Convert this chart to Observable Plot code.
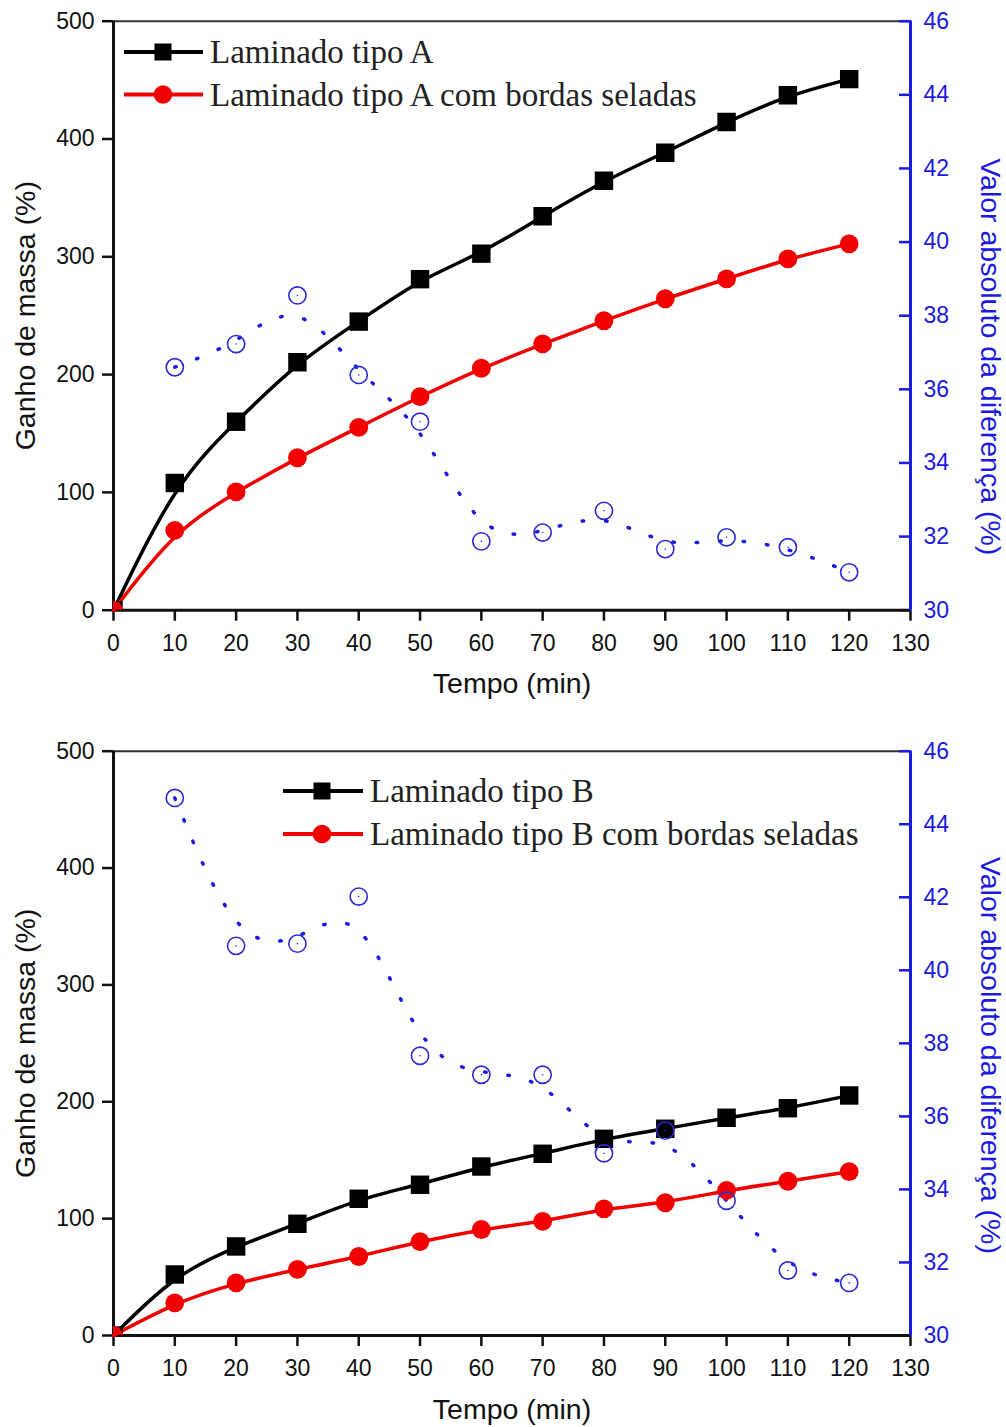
<!DOCTYPE html>
<html>
<head>
<meta charset="utf-8">
<script src="https://cdn.jsdelivr.net/npm/d3@7"></script>
<script src="https://cdn.jsdelivr.net/npm/@observablehq/plot@0.6"></script>
<style>
  html, body { margin: 0; padding: 0; background: #fff; }
  #page { position: relative; width: 1006px; height: 1427px; overflow: hidden; }
  #page svg { display: block; }
  .legend { position: absolute; left: 0; top: 0; pointer-events: none; }
</style>
</head>
<body>
<div id="page"></div>
<script>
// ---------- data ----------
const tempo = [0, 10, 20, 30, 40, 50, 60, 70, 80, 90, 100, 110, 120];
const tempoDif = [10, 20, 30, 40, 50, 60, 70, 80, 90, 100, 110, 120];

const massaA       = [0, 108, 160, 210.5, 245, 281, 302.7, 334.5, 364.6, 388.4, 414.5, 437.2, 450.8];
const massaASelada = [0, 67.8, 100.4, 129.4, 155.2, 181.3, 205.4, 226, 245.7, 264.4, 281.2, 298.2, 311];
const difA         = [36.6, 37.23, 38.55, 36.39, 35.12, 31.87, 32.11, 32.7, 31.66, 31.98, 31.71, 31.03];

const massaB       = [0, 52.2, 76.2, 95.6, 117, 129, 144.6, 155.5, 168.3, 176.9, 186.3, 194.5, 205.4];
const massaBSelada = [0, 28, 45.1, 56.5, 67.6, 80.4, 90.7, 97.6, 108.4, 113.6, 124.1, 132, 140.3];
const difB         = [44.72, 40.67, 40.73, 42.02, 37.66, 37.14, 37.14, 34.99, 35.61, 33.69, 31.78, 31.44];

const xTicks = [0, 10, 20, 30, 40, 50, 60, 70, 80, 90, 100, 110, 120, 130];
const leftTicks = [0, 100, 200, 300, 400, 500];
const rightTicks = [30, 32, 34, 36, 38, 40, 42, 44, 46];

const xDomain = [0, 130];
const leftDomain = [0, 500];
const rightDomain = [30, 46];

const labelsA = ["Laminado tipo A", "Laminado tipo A com bordas seladas"];
const labelsB = ["Laminado tipo B", "Laminado tipo B com bordas seladas"];
const xLabel = "Tempo (min)";
const leftLabel = "Ganho de massa (%)";
const rightLabel = "Valor absoluto da diferença (%)";

// ---------- styles ----------
const BLACK = "#000";
const RED = "#f20000";
const BLUE = "#1a1ae0";
const BLUE_MARK = "#2b2bd0";
const SANS = "'Liberation Sans', Arial, sans-serif";
const SERIF = "'Liberation Serif', 'Times New Roman', serif";

// map right-axis values into the left scale's units
const toLeft = v => (v - rightDomain[0]) / (rightDomain[1] - rightDomain[0]) * (leftDomain[1] - leftDomain[0]) + leftDomain[0];
const fromLeft = u => (u - leftDomain[0]) / (leftDomain[1] - leftDomain[0]) * (rightDomain[1] - rightDomain[0]) + rightDomain[0];

function panel({height, marginTop, marginBottom, massa, selada, dif, rightDy}) {
  const rows = tempo.map((t, i) => ({t, m: massa[i], s: selada[i]}));
  const difRows = tempoDif.map((t, i) => ({t, v: toLeft(dif[i])}));
  return Plot.plot({
    width: 1006,
    height,
    marginLeft: 113,
    marginRight: 96,
    marginTop,
    marginBottom,
    style: {fontFamily: SANS, background: "white", color: "black", overflow: "visible"},
    x: {domain: xDomain},
    y: {domain: leftDomain},
    marks: [
      // frame
      Plot.ruleY([leftDomain[1]], {stroke: "#333", strokeWidth: 2}),
      // axes
      Plot.axisX(xTicks, {anchor: "bottom", tickSize: 11, tickPadding: 13, fontSize: 23, strokeWidth: 2.5, label: null, color: "#111"}),
      Plot.axisY(leftTicks, {anchor: "left", tickSize: 11, tickPadding: 8, fontSize: 23, strokeWidth: 2.5, label: null, color: "#111"}),
      Plot.axisY(rightTicks.map(toLeft), {anchor: "right", tickSize: -12, tickPadding: 25, fontSize: 23, strokeWidth: 2.5, label: null, color: BLUE,
        tickFormat: d => String(Math.round(fromLeft(d)))}),
      Plot.ruleY([leftDomain[0]], {stroke: "#111", strokeWidth: 3}),
      Plot.ruleX([xDomain[0]], {stroke: "#111", strokeWidth: 3}),
      Plot.ruleX([xDomain[1]], {stroke: BLUE, strokeWidth: 3}),
      // axis titles
      Plot.text([xLabel], {text: d => d, frameAnchor: "bottom", textAnchor: "middle", lineAnchor: "middle", dy: 74, fontSize: 28.5, fill: "#111"}),
      Plot.text([leftLabel], {text: d => d, frameAnchor: "left", textAnchor: "middle", lineAnchor: "middle", dx: -88, rotate: -90, fontSize: 28.5, fill: "#111"}),
      Plot.text([rightLabel], {text: d => d, frameAnchor: "right", textAnchor: "middle", lineAnchor: "middle", dx: 80, dy: rightDy, rotate: 90, fontSize: 28.5, fill: BLUE}),
      // blue difference series
      Plot.line(difRows, {x: "t", y: "v", curve: "basis", stroke: BLUE, strokeWidth: 3.5, strokeDasharray: "1.5,22", strokeLinecap: "round"}),
      // main series
      Plot.line(rows, {x: "t", y: "m", curve: "basis", stroke: BLACK, strokeWidth: 3.5}),
      Plot.line(rows, {x: "t", y: "s", curve: "basis", stroke: RED, strokeWidth: 3.5}),
      Plot.dot(rows, {x: "t", y: "m", symbol: "square", r: 10.4, fill: BLACK, stroke: "none", clip: true}),
      Plot.dot(rows, {x: "t", y: "s", symbol: "circle", r: 9.4, fill: RED, stroke: "none", clip: true}),
      Plot.dot(difRows, {x: "t", y: "v", r: 8.6, fill: "none", stroke: BLUE_MARK, strokeWidth: 1.6}),
      Plot.dot(difRows, {x: "t", y: "v", r: 0.8, fill: BLUE_MARK, stroke: "none"})
    ]
  });
}

function legend({top, x0, x1, xm, xt, rowsY, labels}) {
  const svg = d3.create("svg")
    .attr("class", "legend")
    .attr("width", 1006).attr("height", 200)
    .style("top", top + "px");
  const items = [
    {color: BLACK, sym: "square"},
    {color: RED, sym: "circle"}
  ];
  items.forEach((it, i) => {
    const y = rowsY[i];
    svg.append("line").attr("x1", x0).attr("x2", x1).attr("y1", y).attr("y2", y)
      .attr("stroke", it.color).attr("stroke-width", 4);
    if (it.sym === "square") {
      svg.append("rect").attr("x", xm - 8.5).attr("y", y - 8.5).attr("width", 17).attr("height", 17).attr("fill", it.color);
    } else {
      svg.append("circle").attr("cx", xm).attr("cy", y).attr("r", 9.3).attr("fill", it.color);
    }
    svg.append("text").attr("x", xt).attr("y", y + 11)
      .attr("font-family", SERIF).attr("font-size", 33).attr("fill", "#222")
      .text(labels[i]);
  });
  return svg.node();
}

const page = document.getElementById("page");
page.appendChild(panel({height: 715, marginTop: 20.7, marginBottom: 105.3, massa: massaA, selada: massaASelada, dif: difA, rightDy: 41}));
page.appendChild(panel({height: 712, marginTop: 35.7, marginBottom: 92, massa: massaB, selada: massaBSelada, dif: difB, rightDy: 12}));
page.appendChild(legend({top: 0, x0: 124, x1: 203, xm: 163, xt: 210, rowsY: [52, 94.5], labels: labelsA}));
page.appendChild(legend({top: 715, x0: 283, x1: 363, xm: 322, xt: 370, rowsY: [76, 119], labels: labelsB}));
</script>
</body>
</html>
